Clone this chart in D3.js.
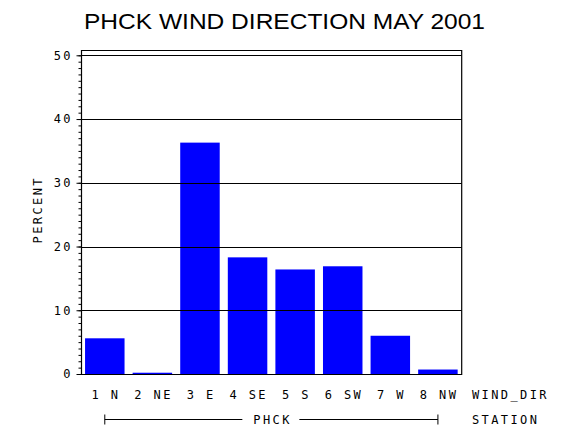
<!DOCTYPE html>
<html>
<head>
<meta charset="utf-8">
<script src="https://cdn.jsdelivr.net/npm/d3@7"></script>
<style>
  body { margin: 0; background: #ffffff; }
  svg { display: block; }
  .mono { font-family: "DejaVu Sans Mono", monospace; font-size: 12px; fill: #000; }
</style>
</head>
<body>
<div id="chart"></div>
<script>
// values
const directions = ["1 N", "2 NE", "3 E", "4 SE", "5 S", "6 SW", "7 W", "8 NW"];
const percents = [5.6, 0.2, 36.3, 18.3, 16.4, 16.9, 6.0, 0.7];
const yTicks = [0, 10, 20, 30, 40, 50];
const stationName = "PHCK";

const width = 570, height = 430;
const plotLeft = 81, plotRight = 461.7;
const spacing = 2.4;

const svg = d3.select("#chart")
  .append("svg")
  .attr("width", width)
  .attr("height", height);

const x = d3.scaleBand()
  .domain(directions)
  .range([plotLeft, plotRight])
  .paddingInner(0.17)
  .paddingOuter(0.085);

const y = d3.scaleLinear()
  .domain([0, 50])
  .range([374, 55.3]);

const frameTop = y(50.88);

// title
svg.append("text")
  .attr("x", 84)
  .attr("y", 29)
  .attr("textLength", 401)
  .attr("lengthAdjust", "spacingAndGlyphs")
  .style("font-family", "'Liberation Sans', Arial, sans-serif")
  .style("font-size", "21.5px")
  .text("PHCK WIND DIRECTION MAY 2001");

// bars
svg.append("g")
  .selectAll("rect")
  .data(percents)
  .enter()
  .append("rect")
  .attr("x", (d, i) => x(directions[i]))
  .attr("y", d => y(d))
  .attr("width", x.bandwidth())
  .attr("height", d => y(0) - y(d))
  .attr("fill", "#0000ff");

// grid lines
svg.append("g")
  .selectAll("line")
  .data(yTicks.filter(d => d > 0))
  .enter()
  .append("line")
  .attr("x1", plotLeft)
  .attr("x2", plotRight)
  .attr("y1", d => Math.round(y(d)) + 0.5)
  .attr("y2", d => Math.round(y(d)) + 0.5)
  .attr("stroke", "#000")
  .attr("stroke-width", 1.2);

// frame
svg.append("path")
  .attr("d", "M" + (plotLeft + 0.5) + "," + (y(0) + 0.5) +
    "V" + (Math.round(frameTop) + 0.5) +
    "H" + plotRight +
    "V" + (y(0) + 0.5) + "Z")
  .attr("fill", "none")
  .attr("stroke", "#000")
  .attr("stroke-width", 1.2);

// y axis ticks (minor every 1, major every 10)
const yAxisMinor = d3.axisLeft(y)
  .tickValues(d3.range(0, 51, 1))
  .tickSize(3)
  .tickFormat("");
const gMinor = svg.append("g")
  .attr("transform", "translate(" + (plotLeft + 0.5) + ",0)")
  .call(yAxisMinor);
gMinor.select(".domain").remove();

const yAxisMajor = d3.axisLeft(y)
  .tickValues(yTicks)
  .tickSize(5)
  .tickPadding(6 - spacing);
const gMajor = svg.append("g")
  .attr("transform", "translate(" + (plotLeft + 0.5) + ",0)")
  .call(yAxisMajor);
gMajor.select(".domain").remove();
gMajor.attr("font-size", null).attr("font-family", null);
gMajor.selectAll("text")
  .attr("class", "mono")
  .style("letter-spacing", spacing + "px");
svg.selectAll(".tick line").attr("stroke", "#000");

// y axis title
svg.append("text")
  .attr("class", "mono")
  .attr("transform", "translate(42,211) rotate(-90)")
  .attr("text-anchor", "middle")
  .attr("dx", spacing / 2)
  .style("letter-spacing", spacing + "px")
  .text("PERCENT");

// x category labels
svg.append("g")
  .selectAll("text")
  .data(directions)
  .enter()
  .append("text")
  .attr("class", "mono")
  .attr("x", d => x(d) + x.bandwidth() / 2 + spacing / 2)
  .attr("y", 398.5)
  .attr("text-anchor", "middle")
  .style("letter-spacing", spacing + "px")
  .text(d => d);

svg.append("text")
  .attr("class", "mono")
  .attr("x", 472)
  .attr("y", 398.5)
  .style("letter-spacing", spacing + "px")
  .text("WIND_DIR");

// station bracket
const bx1 = x(directions[0]) + x.bandwidth() / 2;
const bx2 = x(directions[directions.length - 1]) + x.bandwidth() / 2;
const bMid = (bx1 + bx2) / 2;
const by = 419.5;
const bracket = svg.append("g")
  .attr("stroke", "#000")
  .attr("stroke-width", 1);
bracket.append("line").attr("x1", bx1).attr("x2", bMid - 29).attr("y1", by).attr("y2", by);
bracket.append("line").attr("x1", bMid + 28).attr("x2", bx2).attr("y1", by).attr("y2", by);
bracket.append("line").attr("x1", bx1).attr("x2", bx1).attr("y1", by - 5).attr("y2", by + 5);
bracket.append("line").attr("x1", bx2).attr("x2", bx2).attr("y1", by - 5).attr("y2", by + 5);

svg.append("text")
  .attr("class", "mono")
  .attr("x", bMid + spacing / 2)
  .attr("y", 424)
  .attr("text-anchor", "middle")
  .style("letter-spacing", spacing + "px")
  .text(stationName);

svg.append("text")
  .attr("class", "mono")
  .attr("x", 472)
  .attr("y", 424)
  .style("letter-spacing", spacing + "px")
  .text("STATION");
</script>
</body>
</html>
